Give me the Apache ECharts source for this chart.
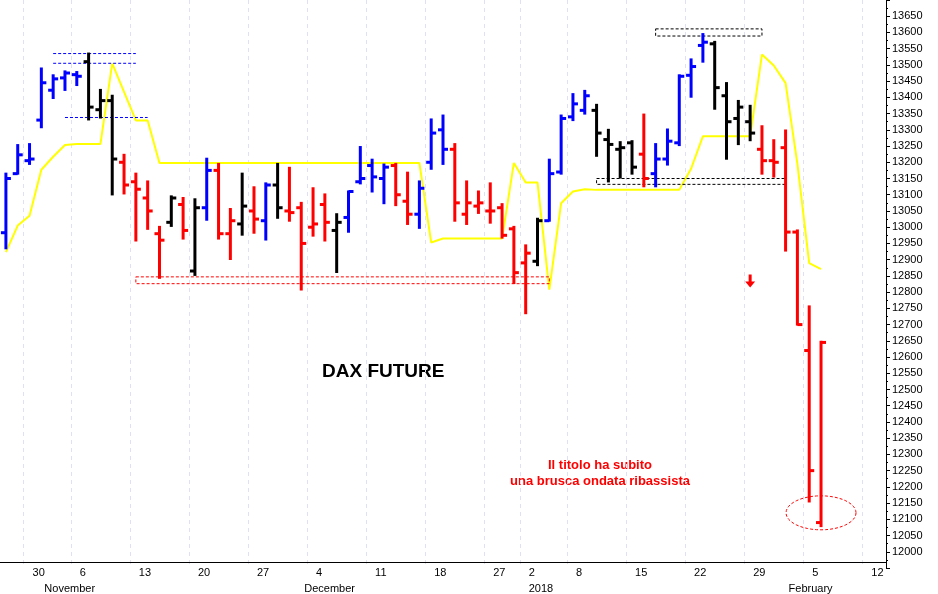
<!DOCTYPE html>
<html><head><meta charset="utf-8">
<script src="https://cdn.jsdelivr.net/npm/echarts@6/dist/echarts.min.js"></script>
<style>html,body{margin:0;padding:0;background:#fff}#c{width:938px;height:594px}</style>
</head><body><div id="c"></div>
<script>
const dates = ['Oct 26','Oct 27','Oct 30','Nov 1','Nov 2','Nov 3','Nov 6','Nov 7','Nov 8','Nov 9','Nov 10','Nov 13','Nov 14','Nov 15','Nov 16','Nov 17','Nov 20','Nov 21','Nov 22','Nov 23','Nov 24','Nov 27','Nov 28','Nov 29','Nov 30','Dec 1','Dec 4','Dec 5','Dec 6','Dec 7','Dec 8','Dec 11','Dec 12','Dec 13','Dec 14','Dec 15','Dec 18','Dec 19','Dec 20','Dec 21','Dec 22','Dec 27','Dec 28','Dec 29','Jan 2','Jan 3','Jan 4','Jan 5','Jan 8','Jan 9','Jan 10','Jan 11','Jan 12','Jan 15','Jan 16','Jan 17','Jan 18','Jan 19','Jan 22','Jan 23','Jan 24','Jan 25','Jan 26','Jan 29','Jan 30','Jan 31','Feb 1','Feb 2','Feb 5','Feb 6','Feb 7','Feb 8','Feb 9','Feb 12','Feb 13'];
const dayTicks = {2:'30',6:'6',11:'13',16:'20',21:'27',26:'4',31:'11',36:'18',41:'27',44:'2',48:'8',53:'15',58:'22',63:'29',68:'5',73:'12'};
const monthTicks = {3:'November',25:'December',44:'2018',66:'February'};
const openV  = [12983,13165,13205,13330,13422,13460,13470,13510,13362,13390,13200,13140,13090,12980,13015,13070,12865,13060,13175,12980,13010,13050,13020,13130,13050,13060,13000,13070,12990,13030,13140,13190,13150,13190,13080,13040,13200,13300,13240,13040,13065,13050,13060,12995,12890,12895,13020,13170,13340,13360,13360,13270,13240,13260,13225,13165,13210,13260,13468,13560,13565,13405,13335,13325,13240,13205,13245,12985,12620,12090];
const highV  = [13165,13253,13256,13489,13468,13480,13478,13535,13423,13405,13223,13165,13141,13001,13095,13090,13086,13211,13195,13056,13165,13123,13135,13195,13183,13075,13120,13101,13040,13110,13247,13208,13193,13195,13168,13141,13332,13344,13256,13141,13110,13135,13071,13001,12944,13026,13208,13344,13410,13420,13377,13300,13262,13265,13347,13256,13301,13468,13517,13595,13571,13444,13389,13374,13311,13268,13298,12990,12756,12647];
const lowV   = [12935,13165,13195,13308,13398,13423,13438,13332,13338,13101,13104,12959,12995,12844,13004,12965,12853,13023,12965,12902,12977,12983,12962,13029,13020,12808,12974,12959,12862,12986,13135,13110,13074,13068,13010,12998,13180,13195,13020,13010,13044,13014,12968,12828,12735,12883,13020,13165,13330,13350,13220,13141,13153,13165,13126,13126,13193,13253,13402,13510,13365,13211,13256,13268,13165,13156,12928,12700,12155,12079];
const closeV = [13150,13223,13210,13445,13457,13475,13465,13370,13390,13210,13130,13117,13050,12960,13090,12990,13060,13175,12980,13020,13065,13025,13130,13060,13045,12950,13010,13015,13015,13110,13150,13155,13185,13100,13040,13120,13290,13240,13075,13075,13075,13050,12975,12860,12920,13020,13165,13335,13380,13405,13290,13255,13245,13185,13150,13210,13265,13465,13495,13570,13430,13325,13370,13290,13205,13200,12985,12700,12250,12645];
const barColor = ['b','b','b','b','b','b','b','k','k','k','r','r','r','r','k','r','k','b','r','r','k','r','b','k','r','r','r','r','k','b','b','b','b','r','r','b','b','b','r','r','r','r','r','r','r','k','b','b','b','b','k','k','k','k','r','b','b','b','b','b','k','k','k','k','r','r','r','r','r','r'];
const yellowV = [12923,13005,13035,13177,13217,13253,13256,13256,13256,13505,13417,13329,13329,13198,13198,13198,13198,13198,13198,13198,13198,13198,13198,13198,13198,13198,13198,13198,13198,13198,13198,13198,13198,13198,13198,13198,12953,12965,12965,12965,12965,12965,12965,13198,13138,13138,12808,13074,13110,13117,13115,13115,13115,13115,13115,13115,13115,13115,13180,13280,13280,13280,13280,13280,13532,13498,13444,13195,12889,12871];
const boxes = [[11.05,46.0,12826,12847,'#ff0000'],[55.0,64.05,13589,13611,'#000000'],[49.96,66.0,13132,13150,'#000000']];
const hLines = [[3.97,10.97,13535],[3.97,10.97,13505],[5.06,11.98,13338]];

const colMap = {b:'#0000ff', r:'#ff0000', k:'#000000'};
const ohlc = openV.map((o,i)=>[i,o,highV[i],lowV[i],closeV[i]]);
const chart = echarts.init(document.getElementById('c'));
const F = 'Liberation Sans, Arial, sans-serif';
chart.setOption({
  animation:false,
  grid:{left:-1, right:52, top:-9.5, bottom:26},
  xAxis:[{
    type:'category', data:dates, boundaryGap:true, offset:-6,
    axisLine:{lineStyle:{color:'#000',width:1}},
    axisTick:{alignWithLabel:true, length:16, interval:(i)=>dayTicks[i]!==undefined, lineStyle:{color:'#000'}},
    axisLabel:{interval:(i)=>dayTicks[i]!==undefined, formatter:(v,i)=>dayTicks[i]||'', align:'left', padding:[0,0,0,3], margin:5, color:'#000', fontSize:11, fontFamily:F},
    splitLine:{show:true, interval:(i)=>dayTicks[i]!==undefined, lineStyle:{color:'#e0e0f4', type:[4,4]}}
  },{
    type:'category', data:dates, boundaryGap:true, position:'bottom', offset:10,
    axisLine:{show:false},
    axisTick:{alignWithLabel:true, length:16, interval:(i)=>monthTicks[i]!==undefined, lineStyle:{color:'#000'}},
    axisLabel:{interval:(i)=>monthTicks[i]!==undefined, formatter:(v,i)=>monthTicks[i]||'', align:'left', padding:[0,0,0,3], margin:5, color:'#000', fontSize:11, fontFamily:F},
    splitLine:{show:false}
  }],
  yAxis:{type:'value', position:'right', min:11950, max:13700, interval:50,
    axisLine:{show:true, lineStyle:{color:'#000'}},
    axisTick:{show:true, length:4, lineStyle:{color:'#000'}},
    minorTick:{show:true, splitNumber:2, length:2, lineStyle:{color:'#000'}},
    axisLabel:{showMinLabel:false, showMaxLabel:false, formatter:(v)=>String(v), color:'#000', fontSize:11, fontFamily:F, margin:6},
    splitLine:{show:false}},
  graphic:[
    {type:'text', left:322, top:362, style:{text:'DAX FUTURE', fill:'#000', font:'bold 19px '+F}},
    {type:'text', x:600, y:457, style:{text:'Il titolo ha subito\nuna brusca ondata ribassista', fill:'#ff0000', font:'bold 13px '+F, align:'center', lineHeight:16}}
  ],
  series:[
    {type:'line', data:yellowV.map((v,i)=>[i,v]), symbol:'none', lineStyle:{color:'#ffff00', width:2}, z:1},
    {type:'custom', data:ohlc, z:3, renderItem:(p,api)=>{
      const i=api.value(0);
      const o=api.coord([i,api.value(1)]), h=api.coord([i,api.value(2)]), l=api.coord([i,api.value(3)]), c=api.coord([i,api.value(4)]);
      const col=colMap[barColor[i]];
      const st={stroke:col, lineWidth:3};
      return {type:'group', children:[
        {type:'line', shape:{x1:h[0],y1:h[1]-1,x2:l[0],y2:l[1]+1}, style:st},
        {type:'line', shape:{x1:o[0]-5,y1:o[1],x2:o[0],y2:o[1]}, style:st},
        {type:'line', shape:{x1:c[0],y1:c[1],x2:c[0]+5,y2:c[1]}, style:st}
      ]};
    }},
    {type:'custom', data:boxes.map((b,i)=>[i]), z:2, renderItem:(p,api)=>{
      const b=boxes[api.value(0)];
      const a=api.coord([b[0],b[3]]), z=api.coord([b[1],b[2]]);
      return {type:'rect', shape:{x:a[0],y:a[1],width:z[0]-a[0],height:z[1]-a[1]}, style:{fill:'none', stroke:b[4], lineWidth:1, lineDash:[3,2]}};
    }},
    {type:'custom', data:hLines.map((b,i)=>[i]), z:2, renderItem:(p,api)=>{
      const b=hLines[api.value(0)];
      const a=api.coord([b[0],b[2]]), z=api.coord([b[1],b[2]]);
      return {type:'line', shape:{x1:a[0],y1:a[1],x2:z[0],y2:z[1]}, style:{stroke:'#0000ff', lineWidth:1, lineDash:[3,2]}};
    }},
    {type:'custom', data:[[68.9,12120]], z:2, renderItem:(p,api)=>{
      const c=api.coord([api.value(0),api.value(1)]);
      const pts=[]; for(let k=0;k<48;k++){const t=k/48*Math.PI*2; pts.push([c[0]+35*Math.cos(t), c[1]+17*Math.sin(t)]);}
      return {type:'polygon', shape:{points:pts}, style:{fill:'none', stroke:'#ff0000', lineWidth:1, lineDash:[3,2]}};
    }},
    {type:'custom', data:[[62.9,12830]], z:2, renderItem:(p,api)=>{
      const c=api.coord([api.value(0),api.value(1)]);
      const x=c[0], y=c[1];
      return {type:'polygon', shape:{points:[[x-1.5,y-8],[x+1.5,y-8],[x+1.5,y-1],[x+5,y-1],[x,y+5],[x-5,y-1],[x-1.5,y-1]]}, style:{fill:'#ff0000'}};
    }}
  ]
});
</script></body></html>
